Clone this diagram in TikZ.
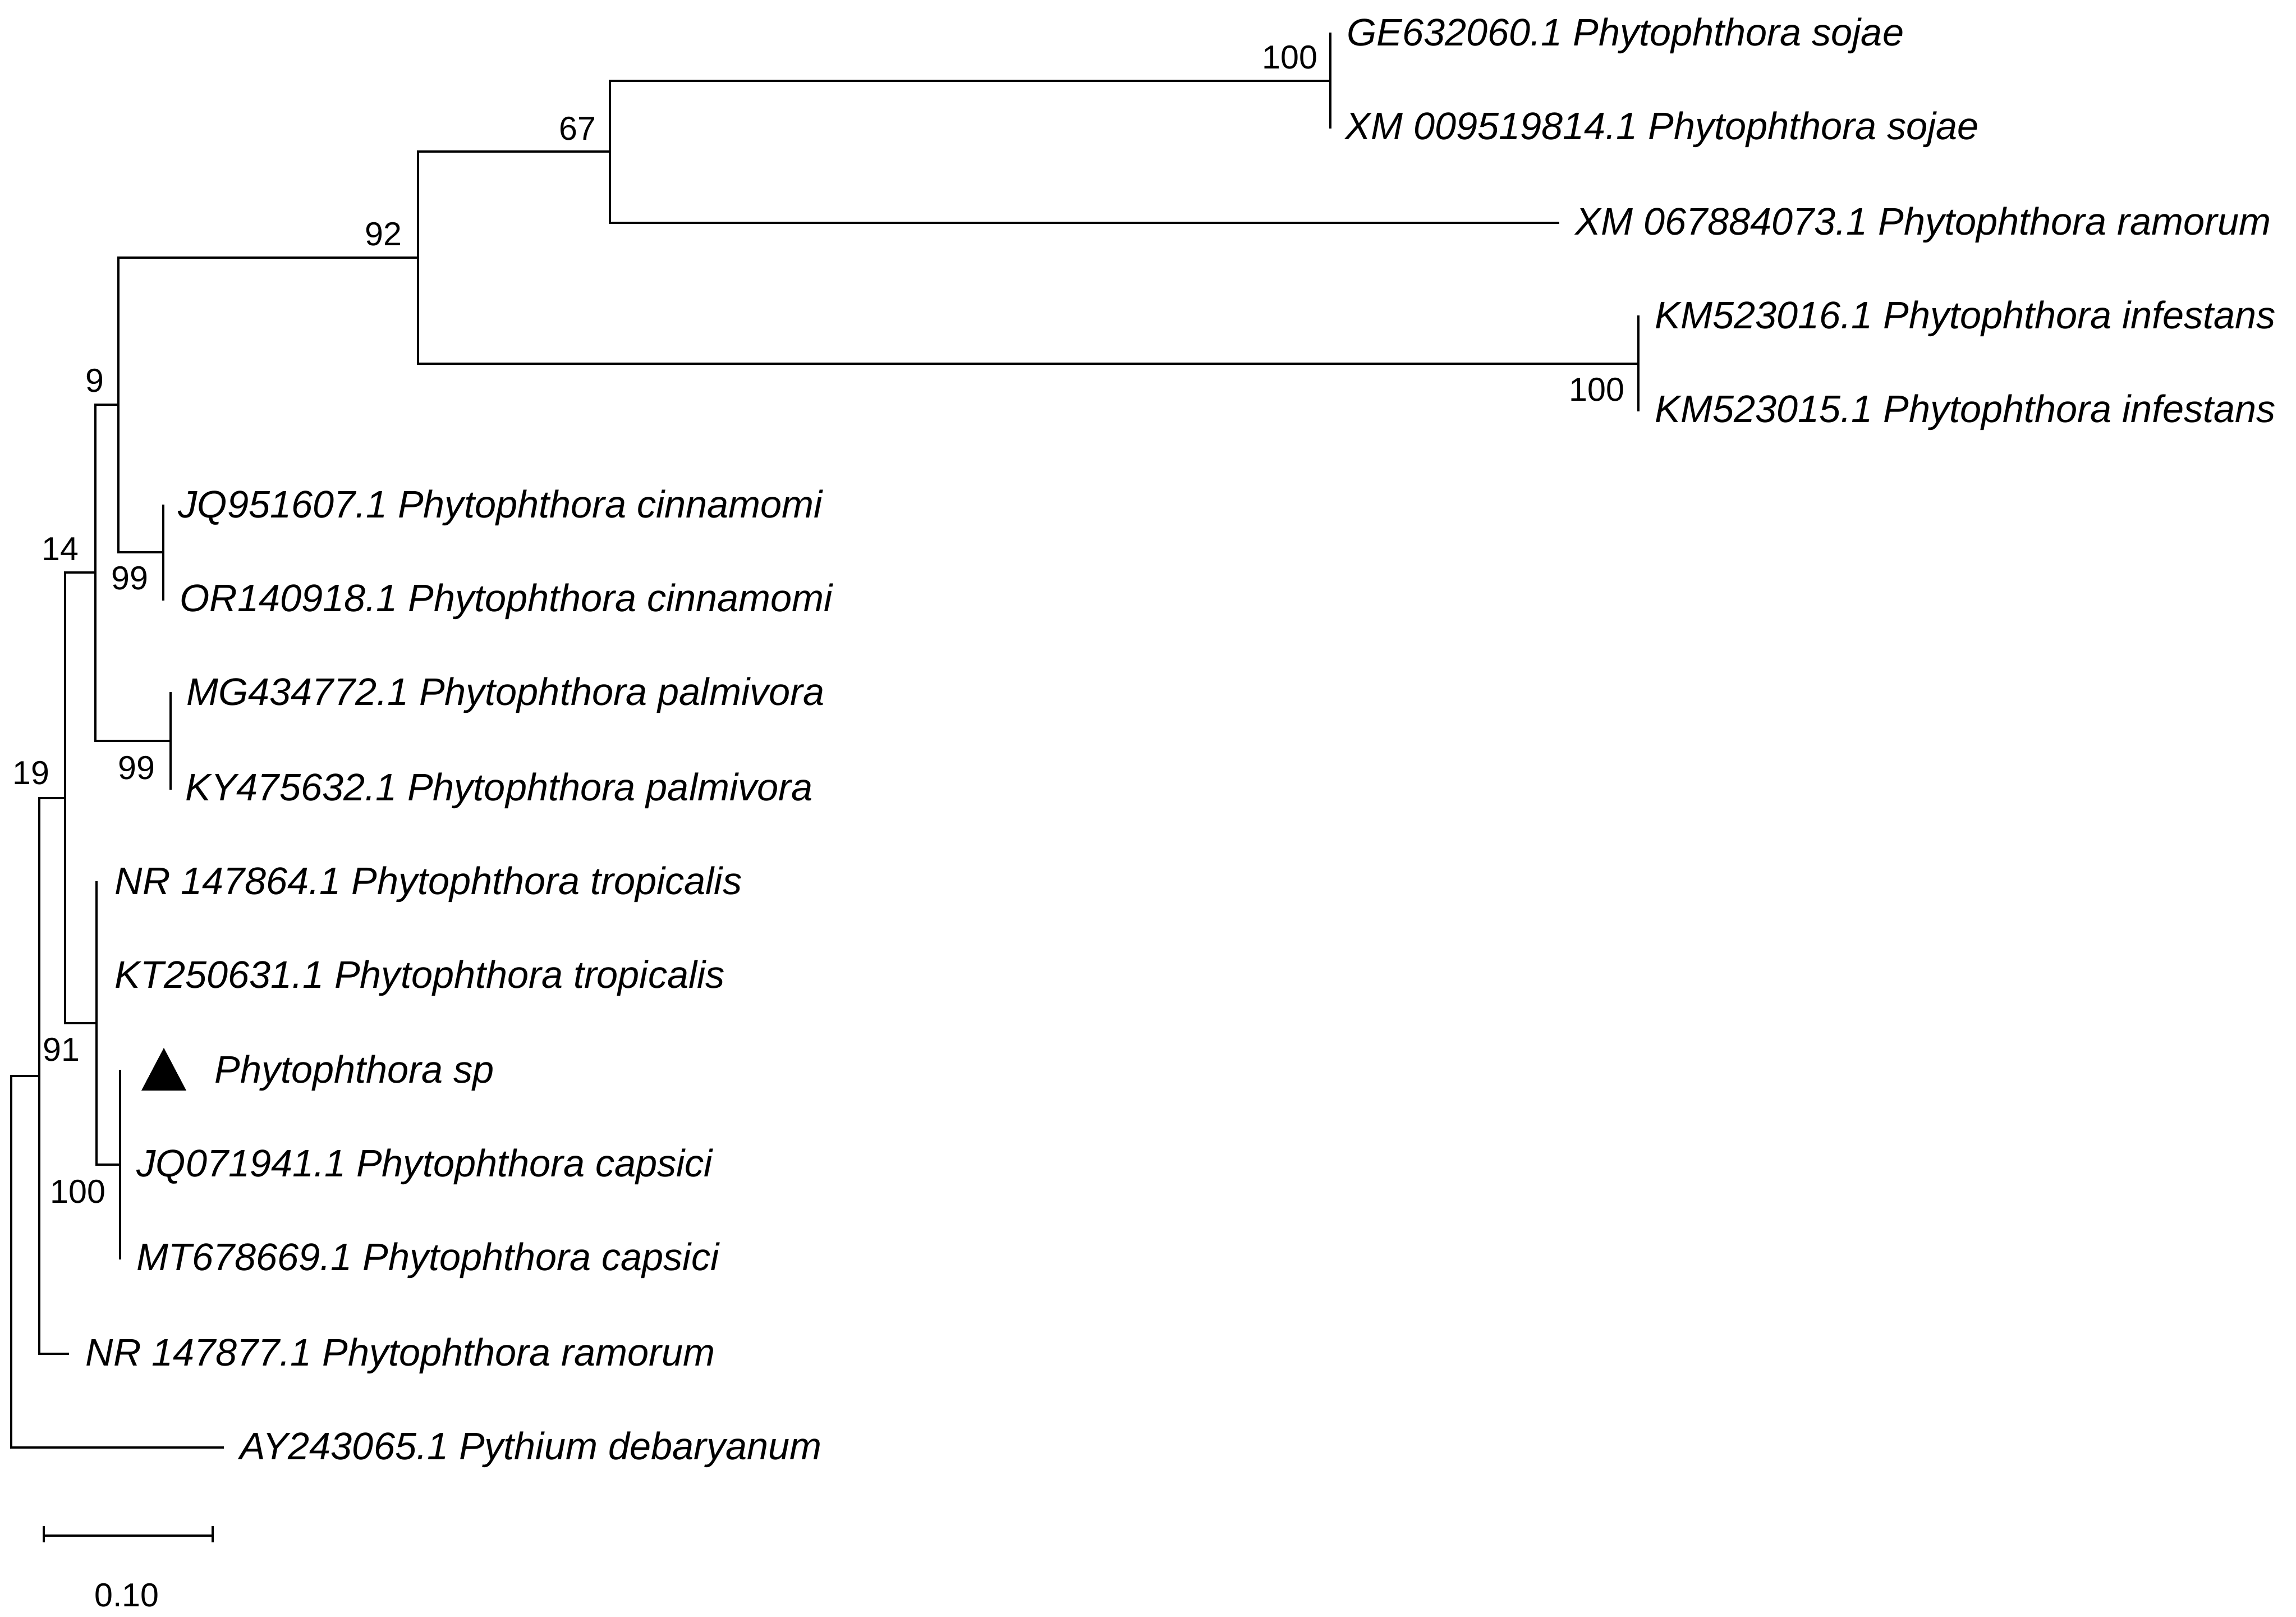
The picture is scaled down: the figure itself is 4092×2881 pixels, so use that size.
\documentclass[tikz,border=0pt]{standalone}
\usepackage{fontspec}
\setmainfont{Liberation Sans}
\begin{document}
\begin{tikzpicture}[x=0.01cm,y=-0.01cm,
  branch/.style={line width=1pt,line cap=rect},
  taxon/.style={anchor=base west,inner sep=0pt,font=\fontsize{19.45pt}{22pt}\selectfont\itshape},
  bootlbl/.style={anchor=base east,inner sep=0pt,font=\fontsize{16.8pt}{20pt}\selectfont}]
\useasboundingbox (0,0) rectangle (4092,2881);
% internal nodes
\coordinate (rt) at (20,2248);
\coordinate (n91) at (70,1917);
\coordinate (n19) at (116,1422);
\coordinate (n14) at (170,1020);
\coordinate (n9) at (211,721);
\coordinate (n92) at (745,459);
\coordinate (n67) at (1087,270);
\coordinate (nsoj) at (2371,144);
\coordinate (ninf) at (2920,648);
\coordinate (ncin) at (291,984);
\coordinate (npal) at (304,1320);
\coordinate (ntro) at (172,1823);
\coordinate (ncap) at (214,2075);
% tips
\coordinate (tGE) at (2371,60);
\coordinate (tXMa) at (2371,227);
\coordinate (tXMb) at (2777,397);
\coordinate (tKMa) at (2920,564);
\coordinate (tKMb) at (2920,731);
\coordinate (tJQa) at (291,901);
\coordinate (tOR) at (291,1068);
\coordinate (tMG) at (304,1235);
\coordinate (tKY) at (304,1405);
\coordinate (tNRa) at (172,1572);
\coordinate (tKT) at (172,1739);
\coordinate (tsp) at (214,1908);
\coordinate (tJQb) at (214,2075);
\coordinate (tMT) at (214,2242);
\coordinate (tNRb) at (121,2412);
\coordinate (tAY) at (397,2579);
% branches
\draw[branch] (n91) -| (rt);
\draw[branch] (tAY) -| (rt);
\draw[branch] (n19) -| (n91);
\draw[branch] (tNRb) -| (n91);
\draw[branch] (n14) -| (n19);
\draw[branch] (ntro) -| (n19);
\draw[branch] (n9) -| (n14);
\draw[branch] (npal) -| (n14);
\draw[branch] (n92) -| (n9);
\draw[branch] (ncin) -| (n9);
\draw[branch] (n67) -| (n92);
\draw[branch] (ninf) -| (n92);
\draw[branch] (nsoj) -| (n67);
\draw[branch] (tXMb) -| (n67);
\draw[branch] (tGE) -- (tXMa);
\draw[branch] (tKMa) -- (tKMb);
\draw[branch] (tJQa) -- (tOR);
\draw[branch] (tMG) -- (tKY);
\draw[branch] (tNRa) -- (tKT) -- (ntro) -- (ntro |- ncap);
\draw[branch] (ncap) -| (ntro);
\draw[branch] (tsp) -- (tJQb) -- (tMT);
% taxon labels
\node[taxon] (lGE) at (2400,81) {GE632060.1 Phytophthora sojae};
\node[taxon] (lXMa) at (2397,248) {XM 009519814.1 Phytophthora sojae};
\node[taxon] (lXMb) at (2807,418) {XM 067884073.1 Phytophthora ramorum};
\node[taxon] (lKMa) at (2949,585) {KM523016.1 Phytophthora infestans};
\node[taxon] (lKMb) at (2949,752) {KM523015.1 Phytophthora infestans};
\node[taxon] (lJQa) at (317,922) {JQ951607.1 Phytophthora cinnamomi};
\node[taxon] (lOR) at (320,1089) {OR140918.1 Phytophthora cinnamomi};
\node[taxon] (lMG) at (332,1256) {MG434772.1 Phytophthora palmivora};
\node[taxon] (lKY) at (330,1426) {KY475632.1 Phytophthora palmivora};
\node[taxon] (lNRa) at (204,1593) {NR 147864.1 Phytophthora tropicalis};
\node[taxon] (lKT) at (204,1760) {KT250631.1 Phytophthora tropicalis};
\node[taxon] (lsp) at (382,1929) {Phytophthora sp};
\node[taxon] (lJQb) at (243,2096) {JQ071941.1 Phytophthora capsici};
\node[taxon] (lMT) at (243,2263) {MT678669.1 Phytophthora capsici};
\node[taxon] (lNRb) at (152,2433) {NR 147877.1 Phytophthora ramorum};
\node[taxon] (lAY) at (427,2600) {AY243065.1 Pythium debaryanum};
% marker triangle
\coordinate (trA) at (252,1943);
\coordinate (trB) at (332,1943);
\coordinate (trC) at (292,1867);
\fill (trA) -- (trB) -- (trC) -- cycle;
% bootstrap values
\node[bootlbl] (bsoj) at (2349,122) {100};
\node[bootlbl] (b67) at (1063,249) {67};
\node[bootlbl] (b92) at (717,437) {92};
\node[bootlbl] (b9) at (186,698) {9};
\node[bootlbl] (b14) at (141,998) {14};
\node[bootlbl] (bcin) at (265,1050) {99};
\node[bootlbl] (bpal) at (277,1388) {99};
\node[bootlbl] (b19) at (89,1397) {19};
\node[bootlbl] (b91) at (143,1890) {91};
\node[bootlbl] (bcap) at (189,2143) {100};
\node[bootlbl] (binf) at (2896,714) {100};
% scale bar
\coordinate (sbL) at (78,2736);
\coordinate (sbR) at (379,2736);
\draw[branch,line cap=butt] (sbL) -- (sbR);
\draw[branch,line cap=butt] ([yshift=0.17cm]sbL) -- ([yshift=-0.12cm]sbL);
\draw[branch,line cap=butt] ([yshift=0.17cm]sbR) -- ([yshift=-0.12cm]sbR);
\node[anchor=base,inner sep=0pt,font=\fontsize{16.8pt}{20pt}\selectfont] (sblbl) at (226,2862) {0.10};
\end{tikzpicture}
\end{document}
